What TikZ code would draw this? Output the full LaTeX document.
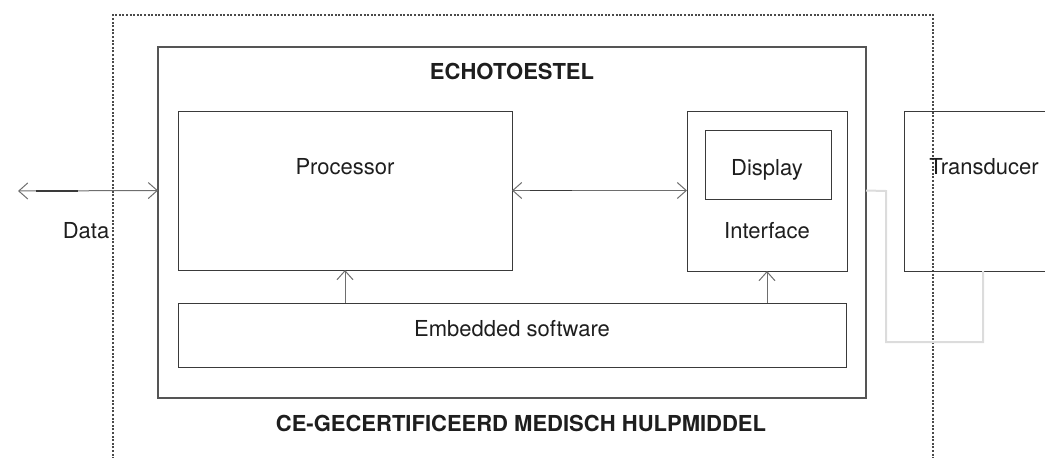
\documentclass[tikz,border=0pt]{standalone}
\usepackage{fontspec}
\setmainfont{TeX Gyre Heros}
\usetikzlibrary{arrows.meta}
\definecolor{boxline}{HTML}{3A3A3A}
\definecolor{wire}{HTML}{6E6E6E}
\definecolor{wiredark}{HTML}{3A3A3A}
\definecolor{cable}{HTML}{DCDCDC}
\definecolor{framecol}{HTML}{555555}
\definecolor{dotcol}{HTML}{4A4A4A}
\definecolor{ink}{HTML}{1E1E1E}
\tikzset{
  box/.style={draw=boxline, line width=1pt, inner sep=0pt, outer sep=0pt, anchor=north west},
  outerbox/.style={box, line width=1.5pt, draw=framecol},
  lbl/.style={text=ink, font=\fontsize{22}{24}\selectfont, anchor=base, inner sep=0pt},
  title/.style={text=ink, font=\fontsize{22}{24}\selectfont\bfseries, anchor=base, inner sep=0pt},
  barb/.tip={Straight Barb[length=9pt,width=16pt,line width=1pt]},
  conn/.style={draw=wire, line width=1pt, barb-barb},
  upconn/.style={draw=wire, line width=1pt, -barb},
  darkseg/.style={draw=wiredark, line width=1.3pt},
  cablestyle/.style={draw=cable, line width=2pt},
  certframe/.style={draw=dotcol, line width=1.1pt, dash pattern=on 2pt off 1.6pt},
}
\begin{document}
\begin{tikzpicture}[x=1pt, y=-1pt]
\useasboundingbox (0,0) rectangle (1045,458);
\clip (0,0) rectangle (1045,458);

% certified-device boundary, open towards the bottom
\draw[certframe] (113,470) -- (113,15) -- (933,15) -- (933,470);

% device and its parts
\node[outerbox, minimum width=708pt, minimum height=351pt] (echo) at (158,47) {};
\node[box, minimum width=334pt, minimum height=159pt] (proc) at (178,111) {};
\node[box, minimum width=160pt, minimum height=160pt] (iface) at (687,111) {};
\node[box, minimum width=126pt, minimum height=69pt] (disp) at (705,130) {};
\node[box, minimum width=668pt, minimum height=64pt] (soft) at (178,303) {};
\node[box, minimum width=160pt, minimum height=160pt] (trans) at (904,111) {};

% labels
\node[title] (echoT) at (512,79) {ECHOTOESTEL};
\node[title] (certT) at (521,431) {CE-GECERTIFICEERD MEDISCH HULPMIDDEL};
\node[lbl] (procT) at (345,174) {Processor};
\node[lbl] (dispT) at (767,175) {Display};
\node[lbl] (ifaceT) at (767,238) {Interface};
\node[lbl] (transT) at (984,174) {Transducer};
\node[lbl] (softT) at (512,336) {Embedded software};
\node[lbl] (dataT) at (86,238) {Data};

% data exchange and internal links
\coordinate (dataend) at (18,191);
\draw[conn] (dataend) -- (proc.center -| echo.west);
\draw[darkseg] (36,191) -- (78,191);
\draw[conn] (proc.east) -- (proc.east -| iface.west);
\draw[darkseg] (530,190.5) -- (572,190.5);
\draw[upconn] (soft.north -| proc.south) -- (proc.south);
\draw[upconn] (soft.north -| iface.south) -- (iface.south);

% transducer cable
\coordinate (plug) at (983,271);
\draw[cablestyle] (proc.center -| echo.east) -- (886,191) -- (886,342) -- (983,342) -- (plug |- trans.south);
\end{tikzpicture}
\end{document}
